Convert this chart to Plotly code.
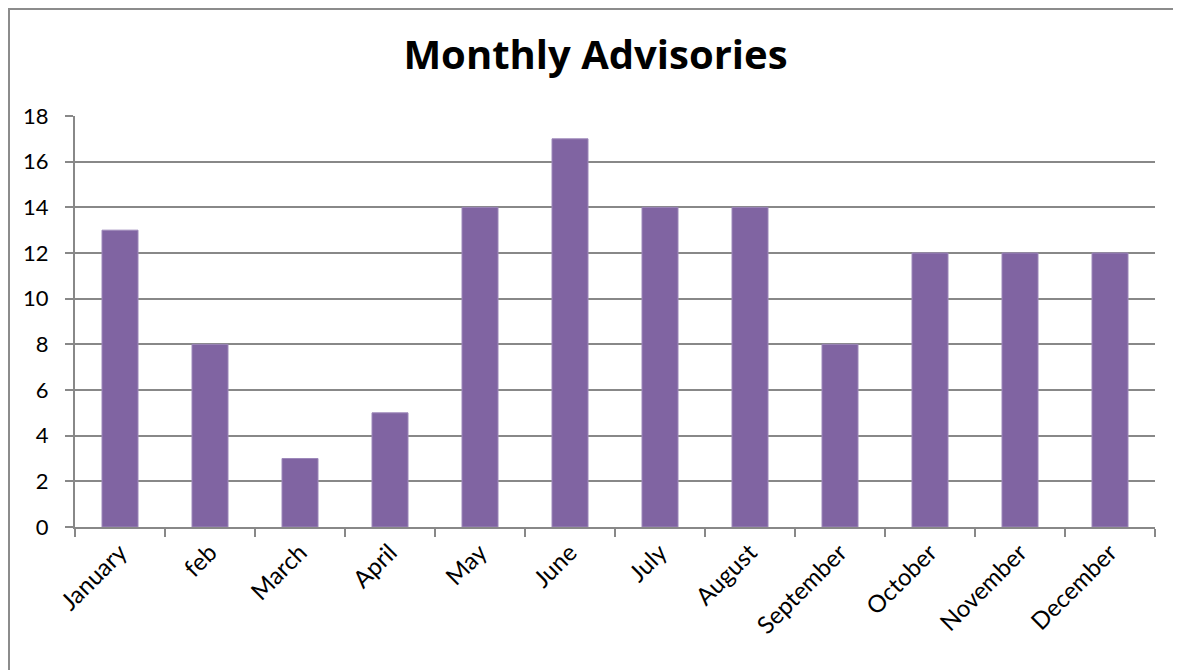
import plotly.graph_objects as go

months = ["January", "feb", "March", "April", "May", "June", "July",
          "August", "September", "October", "November", "December"]
advisories = [13, 8, 3, 5, 14, 17, 14, 14, 8, 12, 12, 12]
y_ticks = list(range(0, 19, 2))

# page body has an 8px margin, so the figure is sized to fill the rest of the window
W, H = 1173, 662
ML, MR, MT, MB = 67, 26, 108, 143
PW, PH = W - ML - MR, H - MT - MB

def px(x):
    return (x - ML) / PW

def py(y):
    return (H - MB - y) / PH

grid = "#888888"
font = "Lato, 'Open Sans', sans-serif"
title_font = "'Open Sans', Lato, sans-serif"

fig = go.Figure(go.Bar(
    x=months, y=advisories,
    marker=dict(color="#8064A2", line=dict(color="#9d88ba", width=1)),
    hoverinfo="x+y",
))

fig.update_layout(
    width=W, height=H,
    margin=dict(l=ML, r=MR, t=MT, b=MB),
    paper_bgcolor="white", plot_bgcolor="white",
    bargap=0.6,
    showlegend=False,
    title=dict(text="<b>Monthly Advisories</b>", x=(595.5 - 8) / W, xanchor="center",
               y=1 - 47 / H, yanchor="middle", yref="container",
               font=dict(family=title_font, size=40, color="black")),
    font=dict(family=font, size=22, color="black"),
    shapes=[
        dict(type="line", xref="paper", yref="paper", x0=px(1), x1=px(1), y0=py(H), y1=py(0),
             line=dict(color="#8c8c8c", width=2)),
        dict(type="line", xref="paper", yref="paper", x0=px(0), x1=px(W), y0=py(1), y1=py(1),
             line=dict(color="#8c8c8c", width=2)),
    ],
)

fig.update_xaxes(
    type="category", tickson="boundaries",
    showline=True, linecolor=grid, linewidth=2,
    ticks="outside", ticklen=8, tickwidth=2, tickcolor=grid,
    tickangle=-45, tickfont=dict(size=24, family=font, color="black"),
    showgrid=False, fixedrange=True,
)
fig.update_yaxes(
    range=[0, 18], tickvals=y_ticks,
    showline=True, linecolor=grid, linewidth=2,
    ticks="outside", ticklen=8, tickwidth=2, tickcolor=grid,
    showgrid=True, gridcolor=grid, gridwidth=2,
    zeroline=False, ticklabelstandoff=12,
    tickfont=dict(size=22, family=font, color="black"),
    fixedrange=True,
)

fig.write_html("out.html")
